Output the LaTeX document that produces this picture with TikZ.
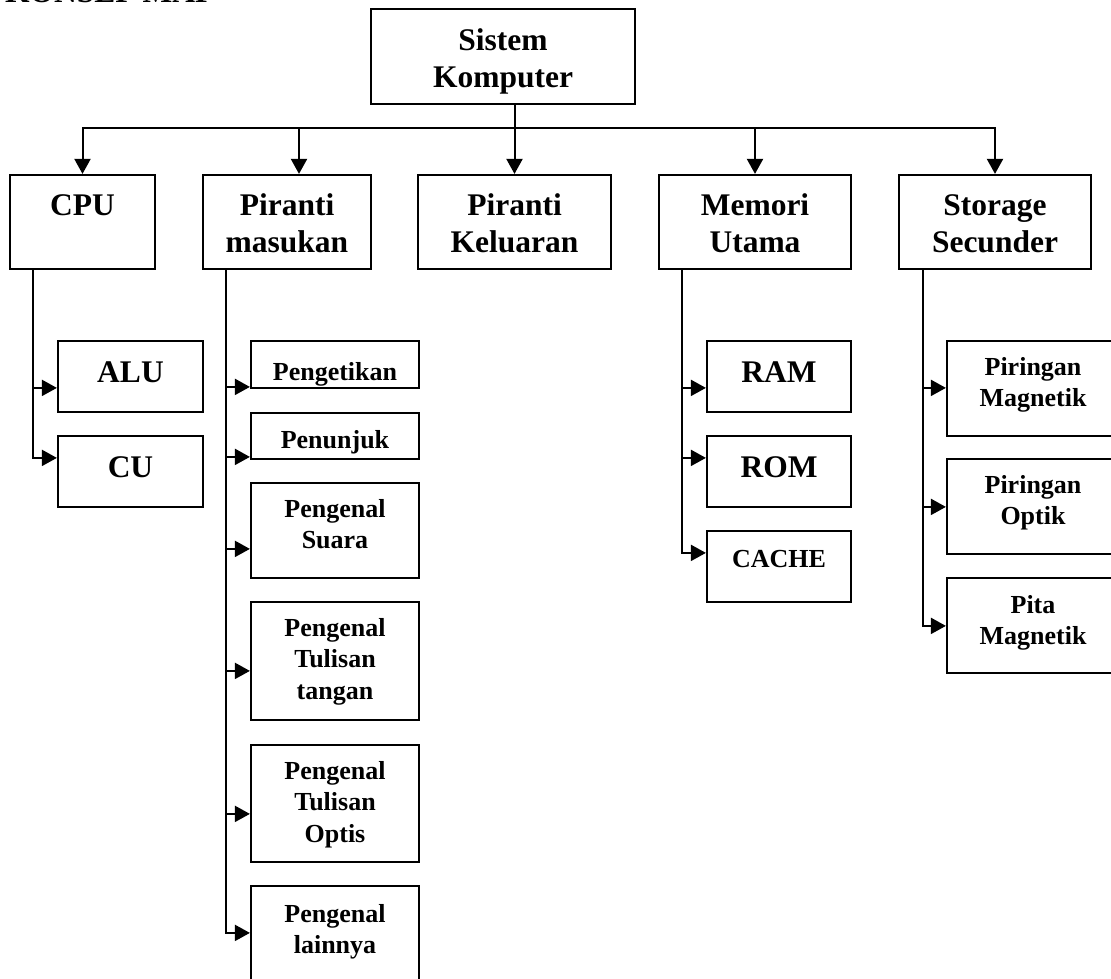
\documentclass[tikz,border=0pt]{standalone}
\usepackage{fontspec}
\setmainfont{Liberation Serif}
\usetikzlibrary{arrows.meta,calc}
\begin{document}
\begin{tikzpicture}[x=1pt,y=-1pt,
  bx/.style={draw, line width=2.2pt, rectangle, inner sep=0pt},
  big/.style={font=\bfseries\fontsize{31.5}{37}\selectfont, anchor=north, inner sep=0pt, align=center},
  small/.style={font=\bfseries\fontsize{26}{31.5}\selectfont, anchor=north, inner sep=0pt, align=center},
  arr/.style={line width=2pt, -{Triangle[length=15pt,width=16pt]}}
]
\useasboundingbox (0,0) rectangle (1111,978);
\fill[white] (0,0) rectangle (1111,978);
\clip (0,0) rectangle (1111,978);

% heading
\node[font=\bfseries\fontsize{31.5}{37}\selectfont, anchor=base west, inner sep=0pt] (judul) at (5,2.5) {KONSEP MAP};

% root
\node[bx, minimum width=264, minimum height=95] (sk) at (503,56.5) {};
\node[big] (skT) at (503,24.1) {\strut Sistem\\\strut Komputer};

% first level
\node[bx, minimum width=145, minimum height=94] (cpu) at (82.5,222) {};
\node[big] (cpuT) at (82.5,189.1) {\strut CPU};
\node[bx, minimum width=168, minimum height=94] (pm) at (287,222) {};
\node[big] (pmT) at (287,189.1) {\strut Piranti\\\strut masukan};
\node[bx, minimum width=193, minimum height=94] (pk) at (514.5,222) {};
\node[big] (pkT) at (514.5,189.1) {\strut Piranti\\\strut Keluaran};
\node[bx, minimum width=192, minimum height=94] (mu) at (755,222) {};
\node[big] (muT) at (755,189.1) {\strut Memori\\\strut Utama};
\node[bx, minimum width=192, minimum height=94] (ss) at (995,222) {};
\node[big] (ssT) at (995,189.1) {\strut Storage\\\strut Secunder};

% CPU parts
\node[bx, minimum width=145, minimum height=71] (alu) at (130.5,376.5) {};
\node[big] (aluT) at (130.5,356.1) {\strut ALU};
\node[bx, minimum width=145, minimum height=71] (cu) at (130.5,471.5) {};
\node[big] (cuT) at (130.5,451.1) {\strut CU};

% input devices (the two short boxes cut their text at the lower edge)
\node[bx, minimum width=168, minimum height=47] (ptk) at (335,364.5) {};
\begin{scope}
  \clip (ptk.north west) rectangle ($(ptk.south east)+(0,-4)$);
  \node[small] (ptkT) at (335,358.6) {\strut Pengetikan};
\end{scope}
\node[bx, minimum width=168, minimum height=46] (pnj) at (335,436) {};
\begin{scope}
  \clip (pnj.north west) rectangle ($(pnj.south east)+(0,-4)$);
  \node[small] (pnjT) at (335,426.6) {\strut Penunjuk};
\end{scope}
\node[bx, minimum width=168, minimum height=95] (psu) at (335,530.5) {};
\node[small] (psuT) at (335,494.9) {\strut Pengenal\\\strut Suara};
\node[bx, minimum width=168, minimum height=118] (ptt) at (335,661) {};
\node[small] (pttT) at (335,613.9) {\strut Pengenal\\\strut Tulisan\\\strut tangan};
\node[bx, minimum width=168, minimum height=117] (pto) at (335,803.5) {};
\node[small] (ptoT) at (335,756.9) {\strut Pengenal\\\strut Tulisan\\\strut Optis};
\node[bx, minimum width=168, minimum height=117] (pla) at (335,944.5) {};
\node[small] (plaT) at (335,899.9) {\strut Pengenal\\\strut lainnya};

% main memory
\node[bx, minimum width=144, minimum height=71] (ram) at (779,376.5) {};
\node[big] (ramT) at (779,356.1) {\strut RAM};
\node[bx, minimum width=144, minimum height=71] (rom) at (779,471.5) {};
\node[big] (romT) at (779,451.1) {\strut ROM};
\node[bx, minimum width=144, minimum height=71] (cache) at (779,566.5) {};
\node[small] (cacheT) at (779,544.9) {\strut CACHE};

% secondary storage
\node[bx, minimum width=172, minimum height=95] (pmg) at (1033,388.5) {};
\node[small] (pmgT) at (1033,352.9) {\strut Piringan\\\strut Magnetik};
\node[bx, minimum width=172, minimum height=95] (pop) at (1033,506.5) {};
\node[small] (popT) at (1033,470.9) {\strut Piringan\\\strut Optik};
\node[bx, minimum width=172, minimum height=95] (pit) at (1033,625.5) {};
\node[small] (pitT) at (1033,590.9) {\strut Pita\\\strut Magnetik};

% root to first level
\coordinate (bus) at (514.5,128);
\draw[arr] (sk.south -| pk.north) -- (pk.north);
\draw[arr] (bus) -| (cpu.north);
\draw[arr] (bus) -| ($(pm.north)+(12,0)$);
\draw[arr] (bus) -| (mu.north);
\draw[arr] (bus) -| (ss.north);

% CPU branch
\coordinate (cpuB) at ($(cpu.south west)+(24,0)$);
\draw[arr] (cpuB) |- ($(alu.north west)+(0,48)$);
\draw[arr] (cpuB) |- ($(cu.north west)+(0,23)$);

% input devices branch
\coordinate (pmB) at ($(pm.south west)+(24,0)$);
\draw[arr] (pmB) |- ($(ptk.north west)+(0,47)$);
\draw[arr] (pmB) |- ($(pnj.north west)+(0,45)$);
\draw[arr] (pmB) |- ($(psu.north west)+(0,67)$);
\draw[arr] (pmB) |- ($(ptt.north west)+(0,70)$);
\draw[arr] (pmB) |- ($(pto.north west)+(0,70)$);
\draw[arr] (pmB) |- ($(pla.north west)+(0,48)$);

% main memory branch
\coordinate (muB) at ($(mu.south west)+(24,0)$);
\draw[arr] (muB) |- ($(ram.north west)+(0,48)$);
\draw[arr] (muB) |- ($(rom.north west)+(0,23)$);
\draw[arr] (muB) |- ($(cache.north west)+(0,23)$);

% secondary storage branch
\coordinate (ssB) at ($(ss.south west)+(25,0)$);
\draw[arr] (ssB) |- ($(pmg.north west)+(0,48)$);
\draw[arr] (ssB) |- ($(pop.north west)+(0,49)$);
\draw[arr] (ssB) |- ($(pit.north west)+(0,49)$);
\end{tikzpicture}
\end{document}
